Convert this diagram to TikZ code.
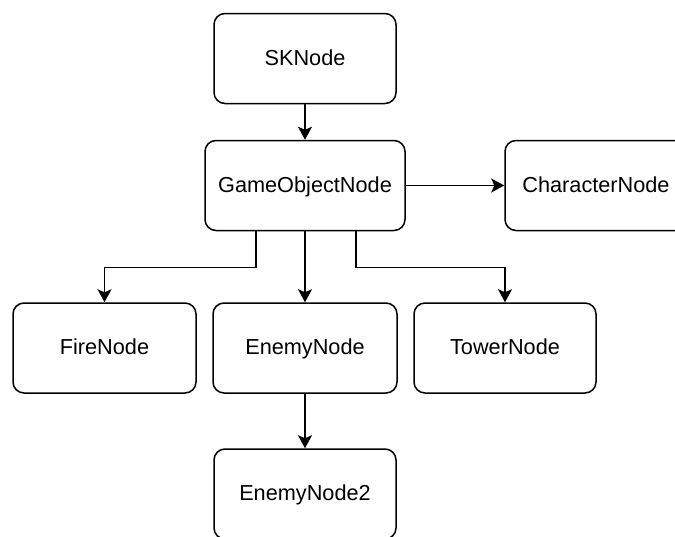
\documentclass[tikz,border=0pt]{standalone}
\usepackage{fontspec}
\setmainfont{Liberation Sans}
\usetikzlibrary{arrows.meta}

\tikzset{
  box/.style={draw, line width=1.5pt, rounded corners=11pt, minimum width=182pt, minimum height=90pt, inner sep=0pt, text height=15.5pt, text depth=2.5pt, font=\fontsize{21.7}{26}\selectfont},
  link/.style={->, line width=1.5pt}
}

\begin{document}
\begin{tikzpicture}[x=1pt, y=-1pt, >={Stealth[length=13pt,width=14pt,inset=3pt]}]
  \useasboundingbox (0,0) rectangle (675,536);
  \node[box] (sk) at (305,58.5) {SKNode};
  \node[box, minimum width=200pt] (go) at (305,185.5) {GameObjectNode};
  \node[box] (ch) at (596,185.5) {CharacterNode};
  \node[box, minimum width=183pt] (fire) at (104.5,348) {FireNode};
  \node[box, minimum width=184pt] (enemy) at (305,348) {EnemyNode};
  \node[box] (tower) at (505,348) {TowerNode};
  \node[box] (enemy2) at (305,494) {EnemyNode2};
  \path[link]
  (sk) edge (go)
  (go) edge (ch)
  (go) edge (enemy)
  (enemy) edge (enemy2)
  ;
  \draw[link] ([xshift=-49pt]go.south) -- ++(0,36) -| (fire);
  \draw[link] ([xshift=51pt]go.south) -- ++(0,36) -| (tower);
\end{tikzpicture}
\end{document}
